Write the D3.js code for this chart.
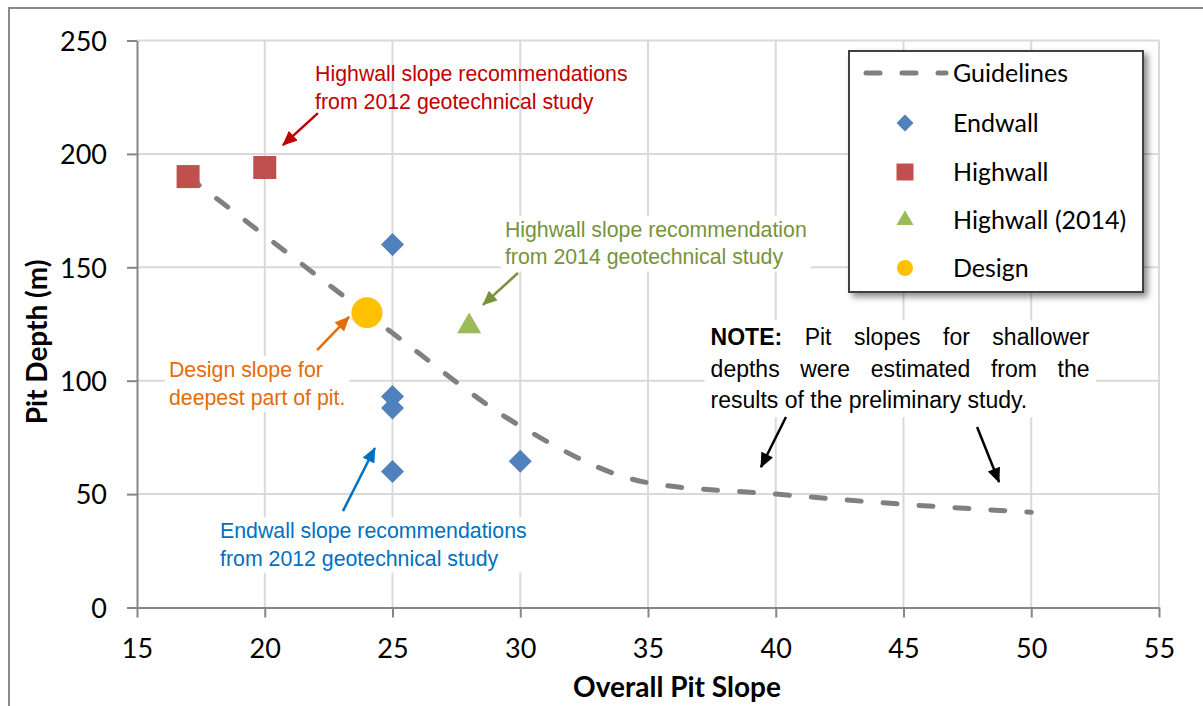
<!DOCTYPE html>
<html><head><meta charset="utf-8">
<script src="https://cdn.jsdelivr.net/npm/d3@7"></script>
<style>
html,body{margin:0;padding:0;background:#fff;}
svg{display:block;}
</style></head><body>
<svg id="chart" width="1203" height="706"></svg>
<script>
// ---------- data ----------
const xTicks = [15,20,25,30,35,40,45,50,55];
const yTicks = [0,50,100,150,200,250];
const guideX = [17,20,25,30,35,40,45,50];
const guideY = [190,164,121,80,55,50,45.5,42];
const endwallX = [25,25,25,25,30];
const endwallY = [160,93,88,60,64.5];
const highwallX = [17,20];
const highwallY = [190,194];
const highwall2014X = [28];
const highwall2014Y = [124];
const designX = [24];
const designY = [130];
const legendLabels = ["Guidelines","Endwall","Highwall","Highwall (2014)","Design"];
const xTitle = "Overall Pit Slope";
const yTitle = "Pit Depth (m)";

// annotations (anchors in data units)
const annRedLines = ["Highwall slope recommendations","from 2012 geotechnical study"];
const annGreenLines = ["Highwall slope recommendation","from 2014 geotechnical study"];
const annOrangeLines = ["Design slope for","deepest part of pit."];
const annBlueLines = ["Endwall slope recommendations","from 2012 geotechnical study"];
const noteLines = [["NOTE:","Pit","slopes","for","shallower"],["depths","were","estimated","from","the"],["results","of","the","preliminary","study."]];

// ---------- layout ----------
const W = 1203, H = 706;
const x = d3.scaleLinear().domain([15,55]).range([137,1159]);
const y = d3.scaleLinear().domain([0,250]).range([607.5,40.5]);
const svg = d3.select("#chart");

const defs = svg.append("defs");
const f = defs.append("filter").attr("id","shadow").attr("x","-10%").attr("y","-10%").attr("width","130%").attr("height","130%");
f.append("feDropShadow").attr("dx",4).attr("dy",4).attr("stdDeviation",3).attr("flood-color","#000").attr("flood-opacity",0.45);

const colors = {guide:"#808080", endwall:"#4F81BD", highwall:"#C0504D", h2014:"#9BBB59", design:"#FFC000",
  red:"#C00000", green:"#77933C", orange:"#E46C0A", blue:"#0070C0", black:"#000000"};
Object.entries(colors).forEach(([k,c])=>{
  defs.append("marker").attr("id","arr-"+k).attr("viewBox","0 0 16 14").attr("refX",15).attr("refY",7)
    .attr("markerWidth",16).attr("markerHeight",13).attr("markerUnits","userSpaceOnUse").attr("orient","auto")
    .append("path").attr("d","M0,0 L16,7 L0,14 Z").attr("fill",c);
});

// outer border
svg.append("path").attr("d","M9,706 V8 H1203").attr("fill","none").attr("stroke","#8a8a8a").attr("stroke-width",2);

// gridlines
const grid = svg.append("g");
grid.selectAll(".gv").data(xTicks.slice(1)).join("line")
  .attr("x1",d=>x(d)).attr("x2",d=>x(d)).attr("y1",y(0)).attr("y2",y(250))
  .attr("stroke","#d9d9d9").attr("stroke-width",2);
grid.selectAll(".gh").data(yTicks.slice(1)).join("line")
  .attr("x1",x(15)).attr("x2",x(55)).attr("y1",d=>y(d)).attr("y2",d=>y(d))
  .attr("stroke","#d9d9d9").attr("stroke-width",2);

// axes
const tickFont = "Lato, 'Open Sans', sans-serif";
const yAxis = svg.append("g").attr("transform",`translate(${x(15)},0)`)
  .call(d3.axisLeft(y).tickValues(yTicks).tickSize(10).tickSizeOuter(0).tickPadding(20));
const xAxis = svg.append("g").attr("transform",`translate(0,${y(0)})`)
  .call(d3.axisBottom(x).tickValues(xTicks).tickSize(10).tickSizeOuter(0).tickPadding(20));
[xAxis,yAxis].forEach(a=>{
  a.select(".domain").attr("stroke","#868686").attr("stroke-width",2);
  a.selectAll(".tick line").attr("stroke","#868686").attr("stroke-width",2);
  a.selectAll(".tick text").attr("font-family",tickFont).attr("font-size",27).attr("fill","#000");
});
yAxis.selectAll(".tick text").attr("dy","0.36em");
xAxis.selectAll(".tick text").attr("y",50).attr("dy",0);

// axis titles
svg.append("text").attr("transform",`translate(47,342) rotate(-90)`).attr("text-anchor","middle")
  .attr("font-family",tickFont).attr("font-weight","bold").attr("font-size",28).text(yTitle);
svg.append("text").attr("x",677).attr("y",697).attr("text-anchor","middle")
  .attr("font-family",tickFont).attr("font-weight","bold").attr("font-size",28).text(xTitle);

// guideline
const guide = guideX.map((d,i)=>[d,guideY[i]]);
svg.append("path").datum(guide)
  .attr("d",d3.line().x(d=>x(d[0])).y(d=>y(d[1])).curve(d3.curveMonotoneX))
  .attr("fill","none").attr("stroke",colors.guide).attr("stroke-width",5)
  .attr("stroke-dasharray","14 22").attr("stroke-linecap","round");

// annotation text helper
const annFont = "'Liberation Sans', Arial, sans-serif";
function annText(lines, ax, ay, color, fill){
  const g = svg.append("g");
  const bg = g.append("rect").attr("fill","#fff");
  const t = g.append("text").attr("font-family",annFont).attr("font-size",21.3).attr("fill",color);
  lines.forEach((l,i)=>t.append("tspan").attr("x",x(ax)).attr("y",y(ay)+i*27.5).text(l));
  const bb = t.node().getBBox();
  if(fill) bg.attr("x",bb.x-4).attr("y",bb.y-2).attr("width",bb.width+8).attr("height",bb.height+4);
  else bg.remove();
}
function arrow(x1,y1,x2,y2,color){
  svg.append("line").attr("x1",x(x1)).attr("y1",y(y1)).attr("x2",x(x2)).attr("y2",y(y2))
    .attr("stroke",colors[color]).attr("stroke-width",2.5).attr("marker-end",`url(#arr-${color})`);
}

annText(annRedLines, 21.97, 232.1, colors.red, false);
annText(annGreenLines, 29.40, 163.4, colors.green, true);
annText(annOrangeLines, 16.25, 101.6, colors.orange, true);
annText(annBlueLines, 18.25, 30.6, colors.blue, true);

// NOTE justified text
(function(){
  const left = x(37.45), right = x(52.28), baseY = y(115.6), lh = 31.5;
  const g = svg.append("g");
  const bg = g.append("rect").attr("fill","#fff");
  const tg = g.append("g");
  noteLines.forEach((words,li)=>{
    const els = words.map((w,wi)=>tg.append("text").attr("font-family",annFont).attr("font-size",23)
      .attr("font-weight",(li===0&&wi===0)?"bold":"normal").attr("y",baseY+li*lh).text(w));
    const widths = els.map(e=>e.node().getComputedTextLength());
    const total = d3.sum(widths);
    const last = li===noteLines.length-1;
    const gap = last ? 23*0.278 : (right-left-total)/(words.length-1);
    let cx = left;
    els.forEach((e,i)=>{ e.attr("x",cx); cx += widths[i]+gap; });
  });
  const bb = tg.node().getBBox();
  bg.attr("x",bb.x-6).attr("y",bb.y-4).attr("width",bb.width+12).attr("height",bb.height+8);
})();

// arrows
arrow(22.08,218.0,20.71,203.9,"red");
arrow(29.91,147.5,28.54,133.4,"green");
arrow(22.05,113.5,23.30,128.1,"orange");
arrow(23.06,42.5,24.31,70.3,"blue");
arrow(40.40,84.0,39.42,61.9,"black");
arrow(47.88,79.6,48.74,55.3,"black");

// markers
const sqSym = d3.symbol().type(d3.symbolSquare);
const triSym = d3.symbol().type(d3.symbolTriangle);
svg.append("g").selectAll("path").data(endwallX.map((d,i)=>[d,endwallY[i]])).join("path")
  .attr("d",sqSym.size(265)()).attr("transform",d=>`translate(${x(d[0])},${y(d[1])}) rotate(45)`)
  .attr("fill",colors.endwall);
svg.append("g").selectAll("path").data(highwallX.map((d,i)=>[d,highwallY[i]])).join("path")
  .attr("d",d3.symbol().type(d3.symbolSquare).size(529)()).attr("transform",d=>`translate(${x(d[0])},${y(d[1])})`)
  .attr("fill",colors.highwall);
svg.append("g").selectAll("path").data(highwall2014X.map((d,i)=>[d,highwall2014Y[i]])).join("path")
  .attr("d",triSym.size(249)()).attr("transform",d=>`translate(${x(d[0])},${y(d[1])})`)
  .attr("fill",colors.h2014);
svg.append("g").selectAll("circle").data(designX.map((d,i)=>[d,designY[i]])).join("circle")
  .attr("cx",d=>x(d[0])).attr("cy",d=>y(d[1])).attr("r",15.5).attr("fill",colors.design);

// legend
const lg = svg.append("g");
lg.append("rect").attr("x",849).attr("y",51).attr("width",294).attr("height",241)
  .attr("fill","#fff").attr("stroke","#404040").attr("stroke-width",2).attr("filter","url(#shadow)");
const rowsY = [73,123,172,220,268];
const legFont = "Lato, 'Open Sans', sans-serif";
legendLabels.forEach((l,i)=>{
  lg.append("text").attr("x",953).attr("y",rowsY[i]).attr("dy","0.36em")
    .attr("font-family",legFont).attr("font-size",25).attr("fill","#000").text(l);
});
lg.append("line").attr("x1",866).attr("x2",946).attr("y1",rowsY[0]).attr("y2",rowsY[0])
  .attr("stroke",colors.guide).attr("stroke-width",5).attr("stroke-dasharray","14 22").attr("stroke-linecap","round");
lg.append("path").attr("d",d3.symbol().type(d3.symbolSquare).size(144)())
  .attr("transform",`translate(905,${rowsY[1]}) rotate(45)`).attr("fill",colors.endwall);
lg.append("path").attr("d",d3.symbol().type(d3.symbolSquare).size(289)())
  .attr("transform",`translate(905,${rowsY[2]})`).attr("fill",colors.highwall);
lg.append("path").attr("d",d3.symbol().type(d3.symbolTriangle).size(125)())
  .attr("transform",`translate(905,${rowsY[3]})`).attr("fill",colors.h2014);
lg.append("circle").attr("cx",905).attr("cy",rowsY[4]).attr("r",8).attr("fill",colors.design);
</script>
</body></html>
